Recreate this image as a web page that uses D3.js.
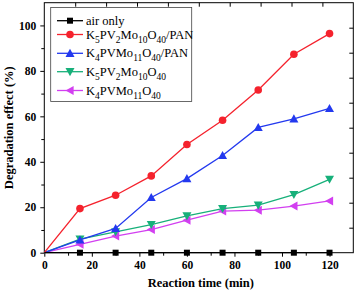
<!DOCTYPE html>
<html>
<head>
<meta charset="utf-8">
<script src="https://d3js.org/d3.v7.min.js"></script>
<style>
  body { margin: 0; background: #fff; }
  text { font-family: "Liberation Serif", "Times New Roman", serif; }
</style>
</head>
<body>
<svg id="chart" width="356" height="295"></svg>
<script>
// data
var times = [0, 15, 30, 45, 60, 75, 90, 105, 120];
var airOnly = [0, 0, 0, 0, 0, 0, 0, 0, 0];
var k5pan = [0, 19.4, 25.3, 33.8, 47.6, 58.3, 71.6, 87.3, 96.4];
var k4pan = [0, 5.6, 10.7, 24.3, 32.6, 42.8, 55.1, 58.9, 63.5];
var k5 = [0, 6.0, 9.2, 12.4, 16.2, 19.4, 20.9, 25.6, 32.3];
var k4 = [0, 3.7, 7.3, 10.2, 14.3, 18.3, 18.7, 20.5, 22.8];
var xTicks = [0, 20, 40, 60, 80, 100, 120];
var yTicks = [0, 20, 40, 60, 80, 100];

var series = [
  {name: ["air only"], vals: airOnly, color: "#000000", sym: "square"},
  {name: ["K", "5", "PV", "2", "Mo", "10", "O", "40", "/PAN"], vals: k5pan, color: "#f5222d", sym: "circle"},
  {name: ["K", "4", "PVMo", "11", "O", "40", "/PAN"], vals: k4pan, color: "#2339ef", sym: "up"},
  {name: ["K", "5", "PV", "2", "Mo", "10", "O", "40"], vals: k5, color: "#17b07a", sym: "down"},
  {name: ["K", "4", "PVMo", "11", "O", "40"], vals: k4, color: "#d23ff0", sym: "left"}
];

var svg = d3.select("#chart");
var pl = 44.3, pr = 353.3, pt = 2.7, pb = 252.7;
var x = d3.scaleLinear().domain([0, 130]).range([pl, pr]);
var y = d3.scaleLinear().domain([0, 110]).range([pb, pt]);

// frame
svg.append("rect").attr("x", pl).attr("y", pt)
  .attr("width", pr - pl).attr("height", pb - pt)
  .attr("fill", "none").attr("stroke", "#000").attr("stroke-width", 1);

// bottom axis, outward ticks
svg.append("g").attr("transform", "translate(0," + pb + ")")
  .call(d3.axisBottom(x).tickValues(xTicks).tickSize(4).tickPadding(4));
svg.append("g").attr("transform", "translate(0," + pb + ")")
  .call(d3.axisBottom(x).tickValues(d3.range(10, 130, 20)).tickSize(3).tickFormat(""));
// left axis, outward ticks
svg.append("g").attr("transform", "translate(" + pl + ",0)")
  .call(d3.axisLeft(y).tickValues(yTicks).tickSize(4).tickPadding(4));
svg.append("g").attr("transform", "translate(" + pl + ",0)")
  .call(d3.axisLeft(y).tickValues(d3.range(10, 110, 20)).tickSize(3).tickFormat(""));
// top and right, inward ticks
svg.append("g").attr("transform", "translate(0," + pt + ")")
  .call(d3.axisBottom(x).tickValues(d3.range(13, 130, 13)).tickSize(4).tickFormat(""));
svg.append("g").attr("transform", "translate(" + pr + ",0)")
  .call(d3.axisLeft(y).tickValues(d3.range(11, 110, 11)).tickSize(4).tickFormat(""));

svg.selectAll(".domain").remove();
svg.selectAll(".tick line").attr("stroke", "#000");
svg.selectAll(".tick text").attr("font-size", 11.5).attr("font-weight", "bold")
  .attr("fill", "#000").style("font-family", "'Liberation Serif', serif");

// titles
svg.append("text").attr("x", (pl + pr) / 2 + 2).attr("y", 287)
  .attr("text-anchor", "middle").attr("font-size", 12.5).attr("font-weight", "bold")
  .text("Reaction time (min)");
svg.append("text").attr("transform", "translate(13," + ((pt + pb) / 2) + ") rotate(-90)")
  .attr("text-anchor", "middle").attr("font-size", 12.5).attr("font-weight", "bold")
  .text("Degradation effect (%)");

function symbol(g, type, color, cx, cy) {
  if (type === "square") {
    g.append("rect").attr("x", cx - 3).attr("y", cy - 3).attr("width", 6).attr("height", 6).attr("fill", color);
  } else if (type === "circle") {
    g.append("circle").attr("cx", cx).attr("cy", cy).attr("r", 3.8).attr("fill", color);
  } else {
    var s = 4.5, pts;
    if (type === "up") pts = [[0, -s], [s, s * 0.8], [-s, s * 0.8]];
    else if (type === "down") pts = [[0, s], [s, -s * 0.8], [-s, -s * 0.8]];
    else pts = [[-s, 0], [s * 0.8, -s], [s * 0.8, s]];
    g.append("polygon").attr("points", pts.map(function (p) { return (cx + p[0]) + "," + (cy + p[1]); }).join(" "))
      .attr("fill", color);
  }
}

var line = d3.line().x(function (d, i) { return x(times[i]); }).y(function (d) { return y(d); });

// draw lines (black on top of axis)
series.slice().reverse().forEach(function (s) {
  var g = svg.append("g");
  g.append("path").attr("d", line(s.vals)).attr("fill", "none")
    .attr("stroke", s.color).attr("stroke-width", 1.3);
  s.vals.forEach(function (v, i) {
    if (i === 0) return;
    symbol(g, s.sym, s.color, x(times[i]), y(v));
  });
});

// legend
var lg = svg.append("g");
lg.append("rect").attr("x", 50.7).attr("y", 7.5).attr("width", 141).attr("height", 94)
  .attr("fill", "#fff").attr("stroke", "#444").attr("stroke-width", 0.8);
var legY = [20.7, 34.5, 53.3, 71.7, 90.5];
series.forEach(function (s, k) {
  var cy = legY[k];
  lg.append("line").attr("x1", 57).attr("x2", 83).attr("y1", cy).attr("y2", cy)
    .attr("stroke", s.color).attr("stroke-width", 1.3);
  symbol(lg, s.sym, s.color, 70, cy);
  var t = lg.append("text").attr("x", 86).attr("y", cy + 4).attr("font-size", 12.5).attr("fill", "#000");
  s.name.forEach(function (part, j) {
    var isSub = s.name.length > 1 && j % 2 === 1 && part !== "/PAN";
    if (isSub) {
      t.append("tspan").attr("font-size", 9.5).attr("dy", 4).text(part);
    } else {
      var ts = t.append("tspan").text(part);
      if (j > 0 && s.name.length > 1) ts.attr("dy", -4);
    }
  });
});
</script>
</body>
</html>
